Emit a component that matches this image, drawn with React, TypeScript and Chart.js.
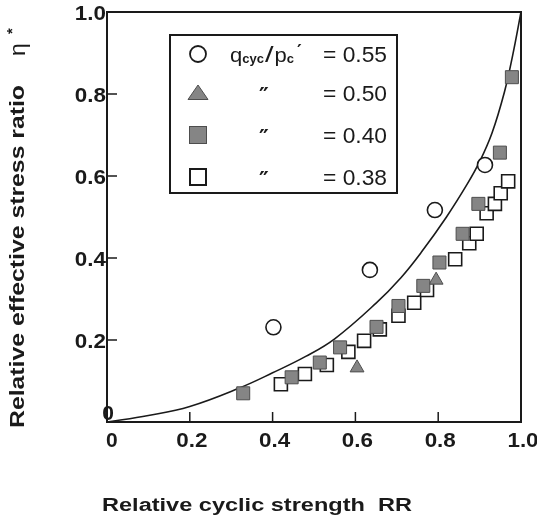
import React, { useEffect, useRef } from 'react';
import { Chart, registerables } from 'chart.js';

Chart.register(...registerables);

// ---- data ----
const curveX = [0, 0.1, 0.2, 0.32, 0.4, 0.48, 0.55, 0.65, 0.71, 0.76, 0.82, 0.87, 0.9, 0.93, 0.96, 0.98, 1.0];
const curveY = [0, 0.016, 0.038, 0.083, 0.12, 0.16, 0.203, 0.29, 0.352, 0.415, 0.5, 0.58, 0.635, 0.705, 0.805, 0.895, 1.0];

const circleX = [0.402, 0.635, 0.792, 0.913];
const circleY = [0.231, 0.371, 0.517, 0.627];

const triangleX = [0.604, 0.795];
const triangleY = [0.132, 0.346];

const filledX = [0.329, 0.446, 0.514, 0.563, 0.651, 0.704, 0.764, 0.803, 0.859, 0.897, 0.949, 0.978];
const filledY = [0.07, 0.109, 0.145, 0.182, 0.232, 0.283, 0.332, 0.389, 0.459, 0.532, 0.657, 0.841];

const openX = [0.42, 0.478, 0.531, 0.583, 0.621, 0.659, 0.704, 0.742, 0.773, 0.841, 0.875, 0.893, 0.917, 0.937, 0.951, 0.969];
const openY = [0.092, 0.117, 0.139, 0.171, 0.198, 0.226, 0.259, 0.291, 0.322, 0.397, 0.436, 0.459, 0.509, 0.532, 0.558, 0.587];

const xTickLabels = ['0', '0.2', '0.4', '0.6', '0.8', '1.0'];
const yTickLabels = ['0', '0.2', '0.4', '0.6', '0.8', '1.0'];
const legendValues = ['0.55', '0.50', '0.40', '0.38'];
const legendStyles = ['circle', 'triangle', 'filledRect', 'openRect'];
const ratioParts = ['q', 'cyc', '/', 'p', 'c', '\u2032'];
const dittoMark = '\u2033';
const xTitle = 'Relative cyclic strength  RR';
const yTitle = 'Relative effective stress ratio';
const yTitleSymbol = '\u03b7';
const yTitleSup = '*';

// ---- styling ----
const INK = '#1a1a1a';
const GRAY = '#858585';
const GRAY_EDGE = '#4d4d4d';
const FONT = "'Liberation Sans', Arial, sans-serif";

const pts = (xs: number[], ys: number[]) => xs.map((x, i) => ({ x, y: ys[i] }));

function stretchText(
  ctx: CanvasRenderingContext2D,
  s: string,
  x: number,
  y: number,
  size: number,
  opts: { align?: CanvasTextAlign; sx?: number; w?: number; weight?: string; family?: string; rotate?: boolean } = {}
) {
  ctx.save();
  ctx.font = `${opts.weight || 'bold'} ${size}px ${opts.family || FONT}`;
  const m = ctx.measureText(s).width;
  const sx = opts.w ? opts.w / m : opts.sx || 1;
  ctx.translate(x, y);
  if (opts.rotate) ctx.rotate(-Math.PI / 2);
  ctx.scale(sx, 1);
  ctx.textAlign = opts.align || 'left';
  ctx.textBaseline = 'alphabetic';
  ctx.fillStyle = INK;
  ctx.fillText(s, 0, 0);
  ctx.restore();
  return m * sx;
}

function drawMarker(ctx: CanvasRenderingContext2D, style: string, x: number, y: number) {
  ctx.save();
  ctx.lineWidth = 1.5;
  if (style === 'circle') {
    ctx.beginPath();
    ctx.arc(x, y, 8, 0, Math.PI * 2);
    ctx.fillStyle = '#fff';
    ctx.fill();
    ctx.strokeStyle = INK;
    ctx.lineWidth = 1.8;
    ctx.stroke();
  } else if (style === 'triangle') {
    ctx.beginPath();
    ctx.moveTo(x, y - 8);
    ctx.lineTo(x + 10, y + 6.5);
    ctx.lineTo(x - 10, y + 6.5);
    ctx.closePath();
    ctx.fillStyle = GRAY;
    ctx.fill();
    ctx.strokeStyle = GRAY_EDGE;
    ctx.lineWidth = 1;
    ctx.stroke();
  } else if (style === 'filledRect') {
    ctx.fillStyle = GRAY;
    ctx.fillRect(x - 8.5, y - 8.5, 17, 17);
    ctx.strokeStyle = GRAY_EDGE;
    ctx.lineWidth = 1;
    ctx.strokeRect(x - 8.5, y - 8.5, 17, 17);
  } else {
    ctx.fillStyle = '#fff';
    ctx.fillRect(x - 8, y - 8, 16, 16);
    ctx.strokeStyle = INK;
    ctx.lineWidth = 2;
    ctx.strokeRect(x - 8, y - 8, 16, 16);
  }
  ctx.restore();
}

const decorPlugin = {
  id: 'decor',
  afterDraw(chart: any) {
    const ctx: CanvasRenderingContext2D = chart.ctx;
    const a = chart.chartArea;
    const xs = chart.scales.x;
    const ys = chart.scales.y;
    ctx.save();
    // frame
    ctx.strokeStyle = INK;
    ctx.lineWidth = 2;
    ctx.strokeRect(a.left, a.top, a.right - a.left, a.bottom - a.top);
    // inner ticks + labels
    ctx.lineWidth = 1.5;
    xs.ticks.forEach((t: any, i: number) => {
      const px = xs.getPixelForValue(t.value);
      if (i > 0 && i < xs.ticks.length - 1) {
        ctx.beginPath();
        ctx.moveTo(px, a.bottom);
        ctx.lineTo(px, a.bottom - 10);
        ctx.stroke();
      }
      const lab = xTickLabels[i] ?? String(t.value);
      if (i === 0) stretchText(ctx, lab, a.left - 1, a.bottom + 25, 20, { align: 'left', sx: 1.05 });
      else stretchText(ctx, lab, px + 2, a.bottom + 25, 20, { align: 'center', sx: 1.12 });
    });
    ys.ticks.forEach((t: any, i: number) => {
      const py = ys.getPixelForValue(t.value);
      if (i > 0 && i < ys.ticks.length - 1) {
        ctx.beginPath();
        ctx.moveTo(a.left, py);
        ctx.lineTo(a.left + 10, py);
        ctx.stroke();
      }
      const lab = yTickLabels[i] ?? String(t.value);
      if (i === 0) stretchText(ctx, lab, a.left + 1, a.bottom - 2, 20, { align: 'center', sx: 1.05 });
      else stretchText(ctx, lab, a.left - 1, py + 8, 20, { align: 'right', sx: 1.12 });
    });
    // axis titles
    stretchText(ctx, xTitle, 102, 511, 18, { w: 310 });
    stretchText(ctx, yTitle, 24, 428, 20, { w: 343, rotate: true });
    stretchText(ctx, yTitleSymbol, 25, 56, 22, { rotate: true, sx: 1.05, weight: 'normal' });
    stretchText(ctx, yTitleSup, 17, 34, 15, { rotate: true });
    // legend box
    ctx.lineWidth = 2;
    ctx.strokeStyle = INK;
    ctx.strokeRect(170, 35, 227, 158);
    const rows = [54, 93, 135, 177];
    rows.forEach((ry, i) => {
      drawMarker(ctx, legendStyles[i], 198, ry);
      const base = ry + 8;
      if (i === 0) {
        let x = 230;
        x += stretchText(ctx, ratioParts[0], x, base, 21, { weight: 'normal', sx: 1.05 });
        x += stretchText(ctx, ratioParts[1], x, base + 1, 13, { sx: 1.0 });
        x += 1;
        x += stretchText(ctx, ratioParts[2], x, base, 22, { sx: 1.4, weight: 'normal' });
        x += 1;
        x += stretchText(ctx, ratioParts[3], x, base, 21, { weight: 'normal', sx: 1.05 });
        x += stretchText(ctx, ratioParts[4], x, base + 1, 13, { sx: 1.0 });
        stretchText(ctx, ratioParts[5], x + 3, base - 5, 18, { family: "'DejaVu Sans', sans-serif" });
      } else {
        stretchText(ctx, dittoMark, 264, base + 2, 22, { align: 'center', family: "'DejaVu Sans', sans-serif" });
      }
      stretchText(ctx, '= ' + legendValues[i], 387, base, 22, { align: 'right', w: 64, weight: 'normal' });
    });
    ctx.restore();
  },
};

export default function App() {
  const ref = useRef<HTMLCanvasElement | null>(null);
  useEffect(() => {
    if (!ref.current) return;
    const chart = new Chart(ref.current, {
      type: 'scatter',
      data: {
        datasets: [
          {
            label: 'curve',
            data: pts(curveX, curveY),
            showLine: true,
            borderColor: INK,
            borderWidth: 1.6,
            pointRadius: 0,
            tension: 0.4,
            fill: false,
            order: 4,
          } as any,
          {
            label: legendValues[0],
            data: pts(circleX, circleY),
            pointStyle: 'circle',
            pointRadius: 7.5,
            backgroundColor: '#fff',
            borderColor: INK,
            borderWidth: 1.6,
            order: 0,
          },
          {
            label: legendValues[1],
            data: pts(triangleX, triangleY),
            pointStyle: 'triangle',
            pointRadius: 8,
            backgroundColor: GRAY,
            borderColor: GRAY_EDGE,
            borderWidth: 1,
            order: 2,
          },
          {
            label: legendValues[2],
            data: pts(filledX, filledY),
            pointStyle: 'rect',
            pointRadius: 9.2,
            backgroundColor: GRAY,
            borderColor: GRAY_EDGE,
            borderWidth: 1,
            order: 1,
          },
          {
            label: legendValues[3],
            data: pts(openX, openY),
            pointStyle: 'rect',
            pointRadius: 9.2,
            backgroundColor: '#fff',
            borderColor: INK,
            borderWidth: 1.6,
            order: 3,
          },
        ],
      },
      options: {
        animation: false,
        responsive: false,
        events: [],
        layout: { padding: { top: 12, right: 16, left: 0, bottom: 0 } },
        plugins: { legend: { display: false }, tooltip: { enabled: false } },
        scales: {
          x: {
            type: 'linear',
            min: 0,
            max: 1,
            ticks: { stepSize: 0.2, display: false },
            grid: { display: false },
            border: { display: false },
            afterFit: (s: any) => {
              s.height = 99;
            },
          },
          y: {
            type: 'linear',
            min: 0,
            max: 1,
            ticks: { stepSize: 0.2, display: false },
            grid: { display: false },
            border: { display: false },
            afterFit: (s: any) => {
              s.width = 107;
            },
          },
        },
      },
      plugins: [decorPlugin],
    });
    return () => chart.destroy();
  }, []);
  return (
    <div style={{ position: 'absolute', left: 0, top: 0, width: 537, height: 521, background: '#fff' }}>
      <canvas ref={ref} width={537} height={521} style={{ display: 'block', width: 537, height: 521 }} />
    </div>
  );
}
